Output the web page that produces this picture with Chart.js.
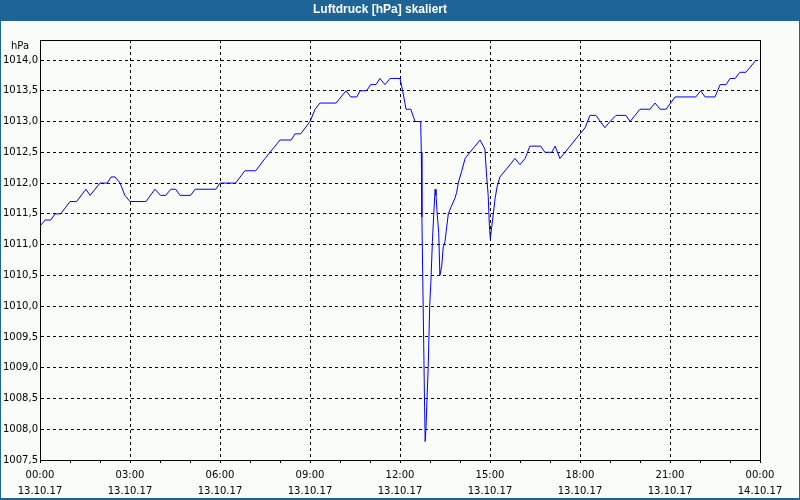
<!DOCTYPE html>
<html>
<head>
<meta charset="utf-8">
<script src="https://cdn.jsdelivr.net/npm/chart.js@4/dist/chart.umd.min.js"></script>
<style>
  html, body { margin: 0; padding: 0; background: #f9fcf9; }
  #wrap { width: 800px; height: 500px; }
</style>
</head>
<body>
<div id="wrap"><canvas id="c" width="800" height="500"></canvas></div>
<script>
// ---- data ----
const hours = [
  0.0, 0.17, 0.36, 0.5, 0.69, 1.0, 1.22, 1.53, 1.67, 2.0, 2.24, 2.37, 2.5, 2.67, 2.83, 3.0,
  3.53, 3.83, 4.02, 4.19, 4.36, 4.52, 4.67, 5.02, 5.17, 5.86, 6.0, 6.52, 6.83, 7.19, 7.5, 8.0,
  8.37, 8.5, 8.69, 9.0, 9.17, 9.33, 9.87, 10.2, 10.36, 10.56, 10.67, 10.89, 11.02, 11.2, 11.33,
  11.5, 11.67, 12.0, 12.09, 12.2, 12.36, 12.5, 12.69, 12.71, 12.73, 12.76, 12.79, 12.82, 12.84,
  12.87, 12.9, 12.94, 12.99, 13.03, 13.08, 13.12, 13.17, 13.2, 13.24, 13.29, 13.33, 13.39, 13.44,
  13.5, 13.56, 13.61, 13.69, 13.83, 13.89, 13.94, 14.06, 14.17, 14.33, 14.5, 14.67, 14.83, 14.89,
  14.94, 14.98, 15.01, 15.06, 15.11, 15.17, 15.24, 15.33, 15.5, 15.67, 15.83, 16.0, 16.17, 16.33,
  16.69, 16.83, 17.06, 17.17, 17.33, 17.5, 17.67, 17.83, 18.0, 18.17, 18.33, 18.53, 18.83, 19.0,
  19.2, 19.53, 19.67, 20.0, 20.33, 20.5, 20.67, 20.87, 21.17, 21.86, 22.02, 22.17, 22.5, 22.67,
  22.87, 23.0, 23.17, 23.33, 23.53, 23.87
];
const pressure = [
  1011.3, 1011.4, 1011.4, 1011.5, 1011.5, 1011.7, 1011.7, 1011.9, 1011.8, 1012.0, 1012.0, 1012.1, 1012.1, 1012.0, 1011.8, 1011.7,
  1011.7, 1011.9, 1011.8, 1011.8, 1011.9, 1011.9, 1011.8, 1011.8, 1011.9, 1011.9, 1012.0, 1012.0, 1012.2, 1012.2, 1012.4, 1012.7,
  1012.7, 1012.8, 1012.8, 1013.0, 1013.2, 1013.3, 1013.3, 1013.5, 1013.4, 1013.4, 1013.5, 1013.5, 1013.6, 1013.6, 1013.7,
  1013.6, 1013.7, 1013.7, 1013.5, 1013.2, 1013.2, 1013.0, 1013.0, 1012.5, 1011.45, 1010.4, 1009.4, 1008.35, 1007.8,
  1008.05, 1008.5, 1009.0, 1010.0, 1010.4, 1011.05, 1011.45, 1011.9, 1011.8, 1011.5, 1011.2, 1010.5, 1010.65, 1010.95,
  1011.05, 1011.3, 1011.5, 1011.6, 1011.75, 1011.85, 1012.0, 1012.2, 1012.4, 1012.5, 1012.6, 1012.7, 1012.55, 1012.1,
  1011.8, 1011.3, 1011.1, 1011.3, 1011.5, 1011.75, 1011.95, 1012.1, 1012.2, 1012.3, 1012.4, 1012.3, 1012.4, 1012.6,
  1012.6, 1012.5, 1012.5, 1012.6, 1012.4, 1012.5, 1012.6, 1012.7, 1012.8, 1012.9, 1013.1, 1013.1, 1012.9, 1013.0,
  1013.1, 1013.1, 1013.0, 1013.2, 1013.2, 1013.3, 1013.2, 1013.2, 1013.4, 1013.4, 1013.5, 1013.4, 1013.4, 1013.6,
  1013.6, 1013.7, 1013.7, 1013.8, 1013.8, 1014.0
];
const yTicks = [1007.5, 1008.0, 1008.5, 1009.0, 1009.5, 1010.0, 1010.5, 1011.0, 1011.5, 1012.0, 1012.5, 1013.0, 1013.5, 1014.0];
const xTickHours = [0, 3, 6, 9, 12, 15, 18, 21, 24];
const xTimeLabels = ['00:00', '03:00', '06:00', '09:00', '12:00', '15:00', '18:00', '21:00', '00:00'];
const xDateLabels = ['13.10.17', '13.10.17', '13.10.17', '13.10.17', '13.10.17', '13.10.17', '13.10.17', '13.10.17', '14.10.17'];
const titleText = 'Luftdruck [hPa] skaliert';
const unitText = 'hPa';

// ---- chart ----
const points = hours.map((h, i) => ({ x: h, y: pressure[i] }));
const tickFont = { family: 'DejaVu Sans', size: 10 };

const framePlugin = {
  id: 'frame',
  beforeDraw(chart) {
    const ctx = chart.ctx;
    ctx.save();
    ctx.fillStyle = '#f9fcf9';
    ctx.fillRect(0, 0, 800, 500);
    ctx.fillStyle = '#1e6496';
    ctx.fillRect(0, 0, 800, 21);
    ctx.strokeStyle = '#1e6496';
    ctx.lineWidth = 1;
    ctx.strokeRect(0.5, 0.5, 799, 498);
    ctx.beginPath();
    ctx.moveTo(0, 499.5); ctx.lineTo(800, 499.5); ctx.stroke();
    ctx.restore();
  },
  beforeDatasetsDraw(chart) {
    const { ctx, chartArea: a } = chart;
    ctx.save();
    ctx.strokeStyle = '#000';
    ctx.lineWidth = 1;
    ctx.setLineDash([]);
    ctx.strokeRect(Math.round(a.left) + 0.5, Math.round(a.top) + 0.5, Math.round(a.right - a.left), Math.round(a.bottom - a.top));
    ctx.restore();
  },
  afterDraw(chart) {
    const ctx = chart.ctx;
    ctx.save();
    ctx.fillStyle = '#000';
    ctx.font = '10px "DejaVu Sans"';
    ctx.textAlign = 'center';
    ctx.textBaseline = 'middle';
    ctx.fillText(unitText, 20, 46);
    ctx.restore();
  }
};

new Chart(document.getElementById('c'), {
  type: 'line',
  data: {
    datasets: [{
      data: points,
      borderColor: '#0000ff',
      borderWidth: 1,
      pointRadius: 0,
      tension: 0,
      fill: false
    }]
  },
  options: {
    responsive: false,
    animation: false,
    devicePixelRatio: 1,
    layout: { padding: { top: 0, left: 0, right: 40, bottom: 0 } },
    plugins: {
      legend: { display: false },
      tooltip: { enabled: false },
      title: {
        display: true,
        text: titleText,
        color: '#ffffff',
        font: { family: 'Liberation Sans', size: 12, weight: 'bold' },
        padding: { top: 2, bottom: 23.6 }
      }
    },
    scales: {
      x: {
        type: 'linear',
        min: 0,
        max: 24,
        afterFit(scale) { scale.height = 40; },
        afterBuildTicks(scale) {
          const t = [];
          for (let h = 0; h <= 24; h++) t.push({ value: h });
          scale.ticks = t;
        },
        ticks: {
          autoSkip: false,
          maxRotation: 0,
          color: '#000',
          font: { family: 'DejaVu Sans', size: 10, lineHeight: 1.6 },
          padding: 4,
          callback(value) {
            const i = xTickHours.indexOf(value);
            return i >= 0 ? [xTimeLabels[i], xDateLabels[i]] : '';
          }
        },
        grid: {
          color: (c) => (c.tick && c.tick.value % 3 === 0) ? '#000' : 'rgba(0,0,0,0)',
          lineWidth: 1,
          tickColor: '#000',
          tickLength: 3,
          tickBorderDash: []
        },
        border: { display: true, color: '#000', width: 1, dash: [3, 3] }
      },
      y: {
        type: 'linear',
        min: 1007.5,
        max: 1014.325,
        afterFit(scale) { scale.width = 40; },
        afterBuildTicks(scale) {
          scale.ticks = yTicks.map(v => ({ value: v }));
        },
        ticks: {
          color: '#000',
          font: tickFont,
          padding: 2,
          callback(value) { return value.toFixed(1).replace('.', ','); }
        },
        grid: {
          color: '#000',
          lineWidth: 1,
          drawTicks: false
        },
        border: { display: true, color: '#000', width: 1, dash: [3, 3] }
      }
    }
  },
  plugins: [framePlugin]
});
</script>
</body>
</html>
